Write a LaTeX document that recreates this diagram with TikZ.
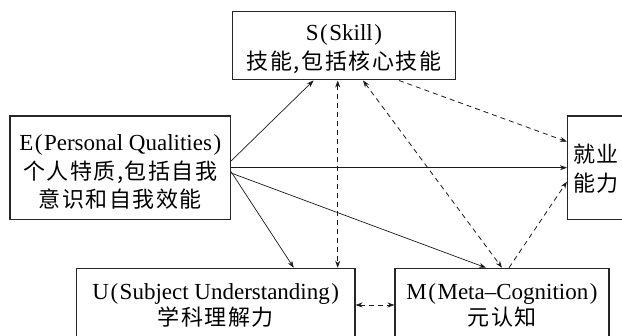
\documentclass[tikz,border=0pt]{standalone}
\usepackage{fontspec}
\setmainfont{Liberation Serif}
\newfontfamily\cjk[LetterSpace=7]{Noto Sans CJK SC}
\usetikzlibrary{arrows.meta}
\newcommand{\zh}[1]{{\cjk\fontsize{22}{28.5}\selectfont #1}}
\newcommand{\lp}{\kern1.5pt(\kern1.5pt}
\newcommand{\rp}{\kern1.5pt)}
\begin{document}
\begin{tikzpicture}[x=1pt,y=-1pt,
  box/.style={draw=black!85, line width=1.1pt, rectangle, inner sep=0pt},
  txt/.style={inner sep=0pt, align=center, font=\fontsize{23}{28.5}\selectfont},
  tip/.tip={Stealth[length=7pt,width=5pt]},
  sol/.style={line width=0.7pt, black!90, -tip},
  dsh/.style={line width=0.8pt, black!90, dash pattern=on 5pt off 4pt, -tip},
  dsh2/.style={dsh, tip-tip}
]
\useasboundingbox (0,0) rectangle (622,336);
\clip (0,0) rectangle (622,336);

\node[box, minimum width=223pt, minimum height=68.3pt] (S) at (344,45.8) {};
\node[box, minimum width=220.5pt, minimum height=103.3pt] (E) at (120.25,167.7) {};
\node[box, minimum width=57pt, minimum height=103.3pt] (J) at (596,167.7) {};
\node[box, minimum width=278.5pt, minimum height=71.4pt] (U) at (215.75,304) {};
\node[box, minimum width=214pt, minimum height=71.4pt] (M) at (502,304) {};

\node[txt] (St) at ([yshift=-3.5pt]S.center) {S\lp Skill\rp\\\zh{技能,包括核心技能}};
\node[txt] (Et) at ([yshift=-4.5pt]E.center) {E\lp Personal Qualities\rp\\\zh{个人特质,包括自我}\\\zh{意识和自我效能}};
\node[txt] (Jt) at ([yshift=-1pt]J.center) {\zh{就业}\\\zh{能力}};
\node[txt, font=\fontsize{23}{25.5}\selectfont] (Ut) at ([yshift=-1.5pt]U.center) {U\lp Subject Understanding\rp\\\zh{学科理解力}};
\node[txt, font=\fontsize{23}{25.5}\selectfont] (Mt) at ([yshift=-1.5pt]M.center) {M\lp Meta–Cognition\rp\\\zh{元认知}};

\draw[sol] ([yshift=6.7pt]E.east) -- ([xshift=-30.5pt]S.south);
\draw[sol] (E.east) -- (J.west);
\draw[sol] ([yshift=-4pt]E.east) -- ([xshift=78pt]U.north);
\draw[sol] ([yshift=-5.3pt]E.east) -- ([xshift=-16pt]M.north);

\draw[dsh2] ([xshift=-6.3pt]S.south) -- ([xshift=121.95pt]U.north);
\draw[dsh2] ([xshift=19pt]S.south) -- (M.north);
\draw[dsh] ([xshift=55pt]S.south) -- ([yshift=26pt]J.west);
\draw[dsh] ([xshift=7pt]M.north) -- ([yshift=-14pt]J.west);
\draw[dsh2] ([yshift=-1pt]U.east) -- ([yshift=-1pt]M.west);
\end{tikzpicture}
\end{document}
